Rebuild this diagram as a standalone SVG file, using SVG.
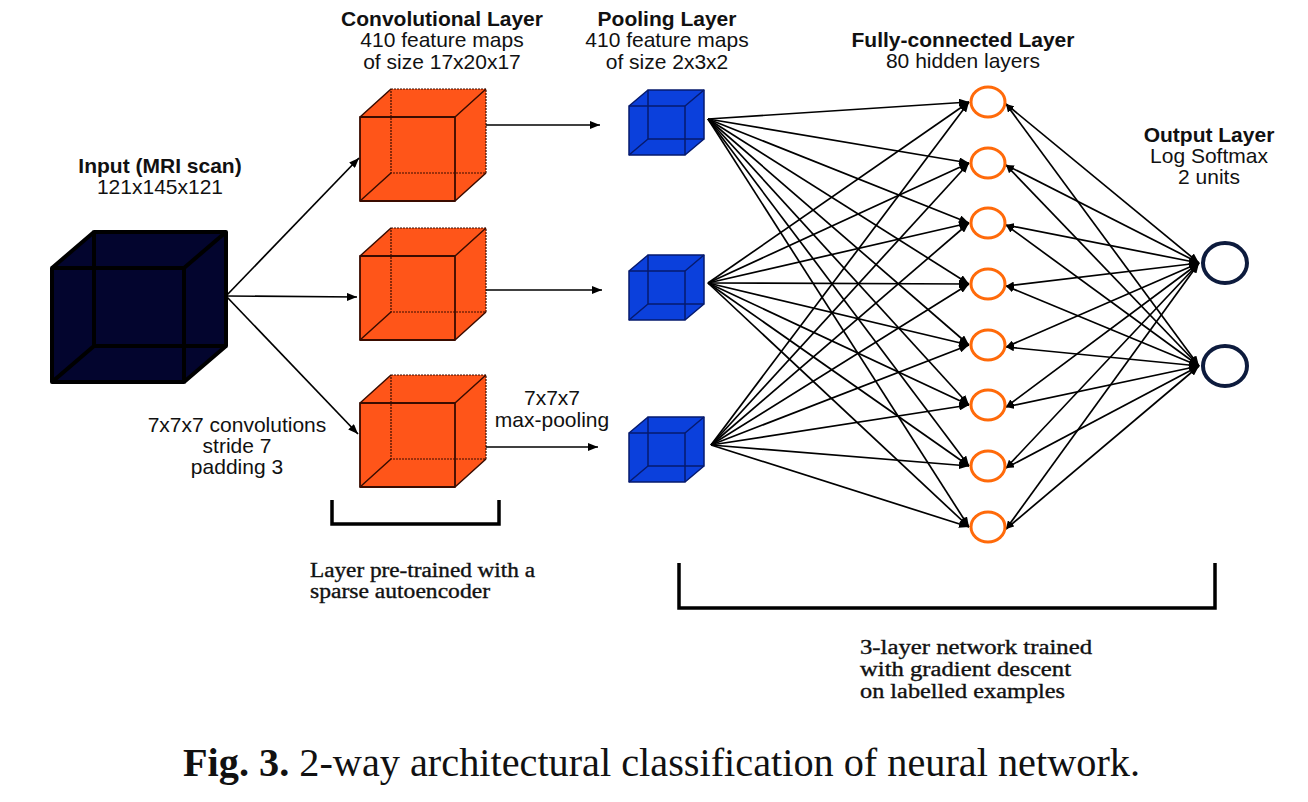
<svg xmlns="http://www.w3.org/2000/svg" width="1308" height="802" viewBox="0 0 1308 802">
<style>
.sans{font-family:"Liberation Sans",Arial,sans-serif;font-size:21px;fill:#111;text-anchor:middle}
.b{font-weight:bold}
.serif{font-family:"Liberation Serif","Times New Roman",serif;font-size:20px;fill:#111;stroke:#111;stroke-width:0.35}
.edge{fill:none;stroke-linejoin:round}
.conn{stroke:#000;stroke-width:1.7;fill:none}
.nodeH{fill:#fff;stroke:#ff6a0a;stroke-width:3}
.nodeO{fill:#fff;stroke:#0d1b3d;stroke-width:4}
.bracket{fill:none;stroke:#000;stroke-width:3.5}
</style>
<defs>
<marker id="arr" markerUnits="userSpaceOnUse" markerWidth="10" markerHeight="8" refX="10" refY="4" orient="auto-start-reverse">
<path d="M0,0 L10,4 L0,8 Z" fill="#000"/>
</marker>
<marker id="arrS" markerUnits="userSpaceOnUse" markerWidth="8" markerHeight="7" refX="8" refY="3.5" orient="auto-start-reverse">
<path d="M0,0 L8,3.5 L0,7 Z" fill="#000"/>
</marker>
</defs>
<rect width="1308" height="802" fill="#fff"/>

<g id="input-node">
<path d="M52,382 L52,268 L94,232 L226,232 L226,346 L184,382 Z" fill="#03052e"/>
<g class="edge" stroke="#000" stroke-width="4">
<rect x="94" y="232" width="132" height="114"/>
<rect x="52" y="268" width="132" height="114"/>
<path d="M52,268 L94,232 M184,268 L226,232 M52,382 L94,346 M184,382 L226,346"/>
</g>
<text class="sans b" x="160" y="173">Input (MRI scan)</text>
<text class="sans" x="160" y="194">121x145x121</text>
</g>

<g id="conv-layer">
<text class="sans b" x="442" y="26">Convolutional Layer</text>
<text class="sans" x="442" y="47">410 feature maps</text>
<text class="sans" x="442" y="69">of size 17x20x17</text>
</g>
<g id="conv-1">
<path d="M360,201 L360,117 L391,89 L486,89 L486,173 L455,201 Z" fill="#ff5519"/>
<g class="edge" stroke="#3a0c00">
<rect x="391" y="89" width="95" height="84" stroke-width="1.2" stroke-dasharray="2 1"/>
<path d="M360,117 L391,89 M455,117 L486,89 M360,201 L391,173 M455,201 L486,173" stroke-width="1.5"/>
<rect x="360" y="117" width="95" height="84" stroke-width="1.8"/>
</g>
</g>
<g id="conv-2">
<path d="M360,340 L360,256 L391,228 L486,228 L486,312 L455,340 Z" fill="#ff5519"/>
<g class="edge" stroke="#3a0c00">
<rect x="391" y="228" width="95" height="84" stroke-width="1.2" stroke-dasharray="2 1"/>
<path d="M360,256 L391,228 M455,256 L486,228 M360,340 L391,312 M455,340 L486,312" stroke-width="1.5"/>
<rect x="360" y="256" width="95" height="84" stroke-width="1.8"/>
</g>
</g>
<g id="conv-3">
<path d="M360,487 L360,403 L391,375 L486,375 L486,459 L455,487 Z" fill="#ff5519"/>
<g class="edge" stroke="#3a0c00">
<rect x="391" y="375" width="95" height="84" stroke-width="1.2" stroke-dasharray="2 1"/>
<path d="M360,403 L391,375 M455,403 L486,375 M360,487 L391,459 M455,487 L486,459" stroke-width="1.5"/>
<rect x="360" y="403" width="95" height="84" stroke-width="1.8"/>
</g>
</g>

<g id="pool-layer">
<text class="sans b" x="667" y="26">Pooling Layer</text>
<text class="sans" x="667" y="47">410 feature maps</text>
<text class="sans" x="667" y="69">of size 2x3x2</text>
</g>
<g id="pool-1">
<path d="M629,155 L629,106 L648,90 L704,90 L704,139 L685,155 Z" fill="#0b40dc"/>
<g class="edge" stroke="#061a6e" stroke-width="1.5">
<rect x="648" y="90" width="56" height="49"/>
<path d="M629,106 L648,90 M685,106 L704,90 M629,155 L648,139 M685,155 L704,139"/>
<rect x="629" y="106" width="56" height="49"/>
</g>
</g>
<g id="pool-2">
<path d="M629,320 L629,271 L648,255 L704,255 L704,304 L685,320 Z" fill="#0b40dc"/>
<g class="edge" stroke="#061a6e" stroke-width="1.5">
<rect x="648" y="255" width="56" height="49"/>
<path d="M629,271 L648,255 M685,271 L704,255 M629,320 L648,304 M685,320 L704,304"/>
<rect x="629" y="271" width="56" height="49"/>
</g>
</g>
<g id="pool-3">
<path d="M629,482 L629,433 L648,417 L704,417 L704,466 L685,482 Z" fill="#0b40dc"/>
<g class="edge" stroke="#061a6e" stroke-width="1.5">
<rect x="648" y="417" width="56" height="49"/>
<path d="M629,433 L648,417 M685,433 L704,417 M629,482 L648,466 M685,482 L704,466"/>
<rect x="629" y="433" width="56" height="49"/>
</g>
</g>

<g id="labels-ops">
<text class="sans" x="237" y="432">7x7x7 convolutions</text>
<text class="sans" x="237" y="453">stride 7</text>
<text class="sans" x="237" y="474">padding 3</text>
<text class="sans" x="552" y="405">7x7x7</text>
<text class="sans" x="552" y="427">max-pooling</text>
</g>

<g id="connectors">
<g class="conn" marker-end="url(#arr)">
<path d="M226,296 L359,158"/>
<path d="M226,296 L357,297"/>
<path d="M226,296 L358,434"/>
<path d="M486,125 L600,125"/>
<path d="M486,290 L602,290"/>
<path d="M486,447 L598,447"/>
</g>
<g class="conn" marker-end="url(#arr)">
<path d="M708,119 L969,102"/><path d="M708,119 L969,163"/><path d="M708,119 L969,223"/><path d="M708,119 L969,284"/>
<path d="M708,119 L969,345"/><path d="M708,119 L969,405"/><path d="M708,119 L969,466"/><path d="M708,119 L969,527"/>
<path d="M708,283 L969,102"/><path d="M708,283 L969,163"/><path d="M708,283 L969,223"/><path d="M708,283 L969,284"/>
<path d="M708,283 L969,345"/><path d="M708,283 L969,405"/><path d="M708,283 L969,466"/><path d="M708,283 L969,527"/>
<path d="M711,445 L969,102"/><path d="M711,445 L969,163"/><path d="M711,445 L969,223"/><path d="M711,445 L969,284"/>
<path d="M711,445 L969,345"/><path d="M711,445 L969,405"/><path d="M711,445 L969,466"/><path d="M711,445 L969,527"/>
</g>
<g class="conn" marker-end="url(#arr)" marker-start="url(#arrS)">
<path d="M1006,104 L1199,263"/><path d="M1006,104 L1199,366"/>
<path d="M1006,165 L1199,263"/><path d="M1006,165 L1199,366"/>
<path d="M1006,225 L1199,263"/><path d="M1006,225 L1199,366"/>
<path d="M1006,286 L1199,263"/><path d="M1006,286 L1199,366"/>
<path d="M1006,347 L1199,263"/><path d="M1006,347 L1199,366"/>
<path d="M1006,407 L1199,263"/><path d="M1006,407 L1199,366"/>
<path d="M1006,468 L1199,263"/><path d="M1006,468 L1199,366"/>
<path d="M1006,529 L1199,263"/><path d="M1006,529 L1199,366"/>
</g>
</g>

<g id="fc-layer">
<text class="sans b" x="963" y="47">Fully-connected Layer</text>
<text class="sans" x="963" y="68">80 hidden layers</text>
</g>
<g id="hidden-1"><ellipse class="nodeH" cx="988" cy="102" rx="17" ry="15"/></g>
<g id="hidden-2"><ellipse class="nodeH" cx="988" cy="163" rx="17" ry="15"/></g>
<g id="hidden-3"><ellipse class="nodeH" cx="988" cy="223" rx="17" ry="15"/></g>
<g id="hidden-4"><ellipse class="nodeH" cx="988" cy="284" rx="17" ry="15"/></g>
<g id="hidden-5"><ellipse class="nodeH" cx="988" cy="345" rx="17" ry="15"/></g>
<g id="hidden-6"><ellipse class="nodeH" cx="988" cy="405" rx="17" ry="15"/></g>
<g id="hidden-7"><ellipse class="nodeH" cx="988" cy="466" rx="17" ry="15"/></g>
<g id="hidden-8"><ellipse class="nodeH" cx="988" cy="527" rx="17" ry="15"/></g>

<g id="output-layer">
<text class="sans b" x="1209" y="142">Output Layer</text>
<text class="sans" x="1209" y="163">Log Softmax</text>
<text class="sans" x="1209" y="184">2 units</text>
</g>
<g id="output-1"><ellipse class="nodeO" cx="1225" cy="263" rx="22" ry="20"/></g>
<g id="output-2"><ellipse class="nodeO" cx="1225" cy="366" rx="22" ry="20"/></g>

<g id="pretrain-note">
<path class="bracket" d="M332,500 L332,524 L499,524 L499,500"/>
<text class="serif" x="310" y="577" textLength="225" lengthAdjust="spacingAndGlyphs">Layer pre-trained with a</text>
<text class="serif" x="310" y="598" textLength="180" lengthAdjust="spacingAndGlyphs">sparse autoencoder</text>
</g>
<g id="training-note">
<path class="bracket" d="M679,563 L679,608 L1215,608 L1215,563" stroke-width="4"/>
<text class="serif" x="860" y="654" textLength="232" lengthAdjust="spacingAndGlyphs">3-layer network trained</text>
<text class="serif" x="860" y="676" textLength="211" lengthAdjust="spacingAndGlyphs">with gradient descent</text>
<text class="serif" x="860" y="698" textLength="205" lengthAdjust="spacingAndGlyphs">on labelled examples</text>
</g>

<g id="caption">
<text x="183" y="776" font-family="'Liberation Serif','Times New Roman',serif" font-size="40" fill="#111" textLength="957" lengthAdjust="spacingAndGlyphs"><tspan font-weight="bold">Fig. 3.</tspan> 2-way architectural classification of neural network.</text>
</g>
</svg>
